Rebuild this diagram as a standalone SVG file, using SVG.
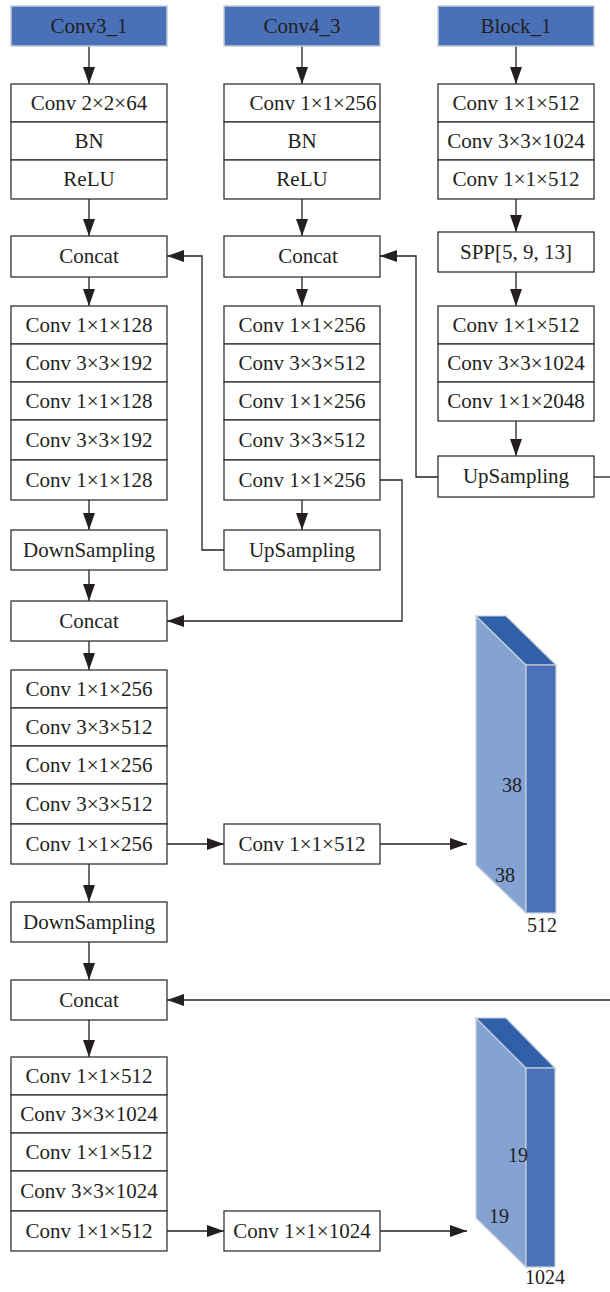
<svg xmlns="http://www.w3.org/2000/svg" width="610" height="1292" viewBox="0 0 610 1292">
<defs>
<marker id="ah" viewBox="0 0 17 12" refX="17" refY="6" markerWidth="17" markerHeight="12" markerUnits="userSpaceOnUse" orient="auto">
<path d="M0,0 L17,6 L0,12 z" fill="#231f20"/>
</marker>
<style>
.box{fill:#fff;stroke:#333;stroke-width:1.3}
.hdr{fill:#4a70b8;stroke:#c5cbd6;stroke-width:1.5}
text{font-family:"Liberation Serif","Times New Roman",serif;font-size:21px;fill:#231f20;text-anchor:middle}
.num{font-size:20px}
.con{fill:none;stroke:#231f20;stroke-width:1.3}
.arr{marker-end:url(#ah)}
.side{fill:#84a3d3;stroke:#c8cfdb;stroke-width:1.2}
.front{fill:#4a72b8;stroke:#c8cfdb;stroke-width:1.2}
.top{fill:#3060a8;stroke:#c8cfdb;stroke-width:1.2}
</style>
</defs>

<g id="connectors">
<path class="con arr" d="M89,46 V84"/>
<path class="con arr" d="M89,199 V236"/>
<path class="con arr" d="M89,277 V306"/>
<path class="con arr" d="M89,500 V530"/>
<path class="con arr" d="M89,570 V601"/>
<path class="con arr" d="M89,641 V670"/>
<path class="con arr" d="M89,864 V902"/>
<path class="con arr" d="M89,942 V980"/>
<path class="con arr" d="M89,1020 V1057"/>
<path class="con arr" d="M302,46 V84"/>
<path class="con arr" d="M302,199 V236"/>
<path class="con arr" d="M302,277 V306"/>
<path class="con arr" d="M302,500 V530"/>
<path class="con arr" d="M516,46 V84"/>
<path class="con arr" d="M516,199 V232"/>
<path class="con arr" d="M516,272 V306"/>
<path class="con arr" d="M516,421 V456"/>
<path class="con arr" d="M224,550 H202 V256 H167"/>
<path class="con arr" d="M438,477 H416 V256 H380"/>
<path class="con arr" d="M380,480 H402 V621 H167"/>
<path class="con" d="M594,477 H610"/>
<path class="con arr" d="M610,1000 H167"/>
<path class="con arr" d="M167,844 H224"/>
<path class="con arr" d="M380,844 H467"/>
<path class="con arr" d="M167,1231 H224"/>
<path class="con arr" d="M380,1231 H467"/>
</g>

<g id="h1"><rect class="hdr" x="11" y="6" width="156" height="40"/><text x="89" y="33">Conv3_1</text></g>
<g id="h2"><rect class="hdr" x="224" y="6" width="156" height="40"/><text x="302" y="33">Conv4_3</text></g>
<g id="h3"><rect class="hdr" x="438" y="6" width="156" height="40"/><text x="516" y="33">Block_1</text></g>

<g id="b1">
<rect class="box" x="11" y="84" width="156" height="38"/><text x="89" y="110">Conv 2×2×64</text>
<rect class="box" x="11" y="122" width="156" height="38"/><text x="89" y="148">BN</text>
<rect class="box" x="11" y="160" width="156" height="39"/><text x="89" y="186">ReLU</text>
</g>
<g id="b2">
<rect class="box" x="224" y="84" width="156" height="38"/><text x="313" y="110">Conv 1×1×256</text>
<rect class="box" x="224" y="122" width="156" height="38"/><text x="302" y="148">BN</text>
<rect class="box" x="224" y="160" width="156" height="39"/><text x="302" y="186">ReLU</text>
</g>
<g id="b3">
<rect class="box" x="438" y="84" width="156" height="38"/><text x="516" y="110">Conv 1×1×512</text>
<rect class="box" x="438" y="122" width="156" height="38"/><text x="516" y="148">Conv 3×3×1024</text>
<rect class="box" x="438" y="160" width="156" height="39"/><text x="516" y="186">Conv 1×1×512</text>
</g>

<g id="concat1"><rect class="box" x="11" y="236" width="156" height="41"/><text x="89" y="263">Concat</text></g>
<g id="concat2"><rect class="box" x="224" y="236" width="156" height="41"/><text x="308" y="263">Concat</text></g>
<g id="spp"><rect class="box" x="438" y="232" width="156" height="40"/><text x="516" y="259">SPP[5, 9, 13]</text></g>

<g id="s1">
<rect class="box" x="11" y="306" width="156" height="38"/><text x="89" y="332">Conv 1×1×128</text>
<rect class="box" x="11" y="344" width="156" height="38"/><text x="89" y="370">Conv 3×3×192</text>
<rect class="box" x="11" y="382" width="156" height="38"/><text x="89" y="408">Conv 1×1×128</text>
<rect class="box" x="11" y="420" width="156" height="40"/><text x="89" y="447">Conv 3×3×192</text>
<rect class="box" x="11" y="460" width="156" height="40"/><text x="89" y="487">Conv 1×1×128</text>
</g>
<g id="s2">
<rect class="box" x="224" y="306" width="156" height="38"/><text x="302" y="332">Conv 1×1×256</text>
<rect class="box" x="224" y="344" width="156" height="38"/><text x="302" y="370">Conv 3×3×512</text>
<rect class="box" x="224" y="382" width="156" height="38"/><text x="302" y="408">Conv 1×1×256</text>
<rect class="box" x="224" y="420" width="156" height="40"/><text x="302" y="447">Conv 3×3×512</text>
<rect class="box" x="224" y="460" width="156" height="40"/><text x="302" y="487">Conv 1×1×256</text>
</g>
<g id="s3">
<rect class="box" x="438" y="306" width="156" height="38"/><text x="516" y="332">Conv 1×1×512</text>
<rect class="box" x="438" y="344" width="156" height="38"/><text x="516" y="370">Conv 3×3×1024</text>
<rect class="box" x="438" y="382" width="156" height="39"/><text x="516" y="408">Conv 1×1×2048</text>
</g>
<g id="up3"><rect class="box" x="438" y="456" width="156" height="41"/><text x="516" y="483">UpSampling</text></g>

<g id="down1"><rect class="box" x="11" y="530" width="156" height="40"/><text x="89" y="557">DownSampling</text></g>
<g id="up2"><rect class="box" x="224" y="530" width="156" height="40"/><text x="302" y="557">UpSampling</text></g>
<g id="concat3"><rect class="box" x="11" y="601" width="156" height="40"/><text x="89" y="628">Concat</text></g>

<g id="s4">
<rect class="box" x="11" y="670" width="156" height="38"/><text x="89" y="696">Conv 1×1×256</text>
<rect class="box" x="11" y="708" width="156" height="38"/><text x="89" y="734">Conv 3×3×512</text>
<rect class="box" x="11" y="746" width="156" height="38"/><text x="89" y="772">Conv 1×1×256</text>
<rect class="box" x="11" y="784" width="156" height="40"/><text x="89" y="811">Conv 3×3×512</text>
<rect class="box" x="11" y="824" width="156" height="40"/><text x="89" y="851">Conv 1×1×256</text>
</g>
<g id="conv512"><rect class="box" x="224" y="824" width="156" height="40"/><text x="302" y="851">Conv 1×1×512</text></g>
<g id="down2"><rect class="box" x="11" y="902" width="156" height="40"/><text x="89" y="929">DownSampling</text></g>
<g id="concat4"><rect class="box" x="11" y="980" width="156" height="40"/><text x="89" y="1007">Concat</text></g>

<g id="s5">
<rect class="box" x="11" y="1057" width="156" height="38"/><text x="89" y="1083">Conv 1×1×512</text>
<rect class="box" x="11" y="1095" width="156" height="38"/><text x="89" y="1121">Conv 3×3×1024</text>
<rect class="box" x="11" y="1133" width="156" height="38"/><text x="89" y="1159">Conv 1×1×512</text>
<rect class="box" x="11" y="1171" width="156" height="40"/><text x="89" y="1198">Conv 3×3×1024</text>
<rect class="box" x="11" y="1211" width="156" height="40"/><text x="89" y="1238">Conv 1×1×512</text>
</g>
<g id="conv1024"><rect class="box" x="224" y="1211" width="156" height="40"/><text x="302" y="1238">Conv 1×1×1024</text></g>

<g id="cube1">
<polygon class="side" points="476,616 526,665 526,913 476,865"/>
<polygon class="top" points="476,616 506,616 556,665 526,665"/>
<rect class="front" x="526" y="665" width="30" height="248"/>
<text class="num" x="512" y="792">38</text>
<text class="num" x="505" y="882">38</text>
<text class="num" x="542" y="932">512</text>
</g>
<g id="cube2">
<polygon class="side" points="476,1018 526,1068 526,1267 476,1218"/>
<polygon class="top" points="476,1018 506,1018 555,1068 526,1068"/>
<rect class="front" x="526" y="1068" width="29" height="199"/>
<text class="num" x="518" y="1162">19</text>
<text class="num" x="499" y="1223">19</text>
<text class="num" x="545" y="1284">1024</text>
</g>
</svg>
